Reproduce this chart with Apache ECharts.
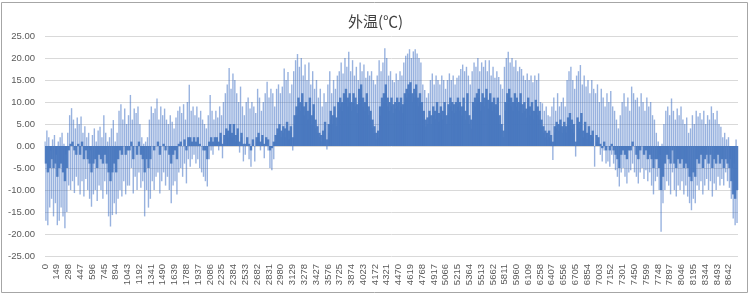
<!DOCTYPE html>
<html>
<head>
<meta charset="utf-8">
<script src="https://cdn.jsdelivr.net/npm/echarts@6/dist/echarts.min.js"></script>
<style>
  html, body { margin: 0; padding: 0; background: #fff; }
  #outTemp { width: 751px; height: 295px; }
</style>
</head>
<body>
<div id="outTemp"></div>
<script>
// outside temperature, one value per day, one line per month
// high / low = tips of the thin spikes, mean = top of the solid band most hours reach
const dailyHigh = [
  1, 3.5, 2, -1, 1.5, 2.5, -2, 1, 2, 3, 0.5, -2, 3, 7, 8.6, 6, 4, 6.5, 5, 6.7, 3, 4.5, 2, 3, -1, 2.5, 4, 1, 3.5, 4.4, 2,
  7, 3, 1, 2, 4, 5.9, 1, 3, 8, 9.5, 6, 8.5, 5, 7, 11.6, 6, 8.5, 7.5, 9, 5, 2, 0.5, 1, 2, 6, 9, 7.5, 8.5,
  10.8, 6, 9, 7, 8.5, 6, 5, 7, 5.5, 4, 6.5, 8, 9, 7.5, 9.5, 6, 10, 13.9, 8, 9, 7, 9, 6.5, 8, 6, 5, 4, 7, 11.6, 8, 6,
  8, 6.5, 9, 7, 10, 12, 14, 17.7, 13, 16.5, 15, 12, 10, 13.5, 9, 7, 10, 11, 8.5, 10, 9, 7.5, 13, 11, 8, 10, 12, 14.6, 11, 13,
  12, 9, 13, 14, 12, 13.5, 17.6, 15, 16.8, 12, 14, 17, 19.5, 20.9, 18, 20, 16, 18.5, 15, 19, 14, 17, 13, 15, 11, 13, 9, 12, 10, 14, 17,
  12, 15, 13, 16, 17, 19, 16.5, 20, 18, 21.4, 17, 19.5, 16, 18, 15, 19, 17, 18.5, 15.5, 17, 16, 17, 15, 14, 16, 19.5, 17, 19, 22.2, 20,
  16, 17, 15, 14.5, 16.5, 15, 17, 16, 19, 20.5, 21, 22, 20, 21.5, 22, 21, 20, 19, 14, 12.7, 11, 12, 15, 16.5, 14, 16, 15, 14, 16, 15, 13,
  15, 16.5, 15, 16, 14, 15.5, 16, 17.5, 18.5, 17, 18, 16, 14, 17, 19, 18, 20, 17, 19, 18, 19.5, 17, 19.5, 16, 18, 15.5, 17, 15.7, 14, 13, 18,
  20, 21.4, 19, 20, 18, 19.5, 17, 18, 17.5, 16, 15, 16.5, 15, 16, 14.5, 16, 15, 16.5, 10, 9.7, 8, 9, 7, 6.7, 9, 11, 8, 12, 9, 10,
  11, 9, 15, 17, 18, 15, 13, 16, 17, 18.4, 14, 16, 13.5, 15, 12, 15, 13, 12, 14, 10, 13, 11, 9, 12, 10, 12.5, 9, 8, 6, 4, 7,
  10, 12, 9, 11, 8, 13.5, 12, 10.5, 11, 9, 12, 10, 8, 11, 9, 10, 7, 6, 3, 1, -2, 0.5, 5, 8, 9, 7, 10.8, 8, 6, 8.5,
  7, 9, 6, 5, 6.5, 3, 4, 7, 5, 8, 6.7, 7.5, 6, 8, 5, 7, 6, 9, 7.5, 6, 8, 5, 4.4, 2, 3, 1.5, 2, -3, -5, -4, 1.5
];
const dailyLow = [
  -17, -18, -14, -12, -16, -13, -18, -17, -14, -16, -18.7, -15, -9, -10, -8, -10.7, -7, -9, -11, -8, -11.5, -7.5, -10, -12, -13.8, -11, -10, -12.5, -9, -10, -12,
  -8, -11, -16, -18.3, -15.7, -13, -15.5, -12, -10, -11.5, -8, -11, -9, -9, -5, -10.8, -7, -10, -6, -9.5, -8, -16, -10, -14, -12, -8, -10, -7,
  -6, -10.8, -8, -6, -9, -7, -10, -13, -9, -8, -11, -6, -5, -7, -4, -8.5, -3, -4.7, -3, -2, -4, -3, -5, -6, -7, -8, -9.2, -3, -1, -2, 0.5,
  1, -1, 2, -2.8, 1.5, 3, 2, 3.5, 2, 4, 1, 3, -1.5, 2, -3.5, -2, 1, -3, -4.7, 0.5, -3.5, 1, 2, -1, 1.5, -2.8, 1, -1, -5, -5.5,
  -3, 1, 3, 4, 2, 3, 2, 4, 1.5, 3, -1, 5, 7, 9, 8, 10.5, 7, 8, 6, 9, 5, 8, 4, 3, 2, 1, 2.5, 4, -0.8, 3, 6,
  5, 7, 4.5, 8, 9, 8, 10, 11, 9, 10, 8, 10, 9, 7.5, 11, 12, 9, 8, 10, 7, 6, 4, 3, 1.5, 2, 7, 9, 10, 12, 9,
  8, 9, 7.5, 8.5, 9, 8, 9, 7.5, 10, 11, 12, 12.7, 10, 11, 12, 9, 10, 8, 6, 4.4, 5, 6.5, 5, 7, 6, 8, 5.5, 7, 6, 8, 5,
  7.5, 9, 8, 7.5, 8, 9, 8, 7, 9, 6, 10, 5, 4, 8, 9, 10, 11, 8, 10, 9, 11, 8.5, 10, 8, 9, 7.5, 9, 5, 3.6, 2, 8,
  10, 11, 9, 8, 10, 9, 8, 10, 7.5, 8, 6.5, 9, 7, 8, 6, 8.5, 7, 6, 4.4, 3, 2, 1.4, 2, 1, -3.2, 3, 4, 3.5, 4.5, 3,
  4, 3, 5, 6, 4, 3, -2.4, 5, 4, 6, 2, 4, 1.5, 3, 1, 2, -4.7, 1, 0.5, -2, -3.5, -1, -4, -3.5, -4.7, -2, -4, -5.5, -7, -9.2, -6,
  -5, -7, -8.5, -6, -5.5, -4, -6, -7, -8.5, -6, -5, -7.5, -5.5, -8, -6, -9, -11, -8, -7, -10, -19.5, -13, -10, -8, -9, -11, -6, -10, -11.5, -9,
  -10, -8, -11, -9, -11.5, -13, -14.6, -12, -13, -9, -10, -8, -11, -9, -7.5, -10, -8, -11.5, -8.5, -10, -7, -9, -7.5, -9, -6, -8, -9.5, -12, -16.5, -18, -17.5
];
const dailyMean = [
  -4, -6, -5, -3, -5, -4, -7, -5, -4, -6, -8, -5, -1, 0.5, 1, -1, -2, 0.5, -2, 1, -3, -1, -3, -4, -6, -4, -3, -5, -2, -3, -4,
  -2, -4, -6, -8, -6, -4, -6, -3, -1, -2, 0, -2, -1, -1, 1, -3, 0, -2, 1, -2, -3, -6, -3, -5, -3, 0, -1, 0,
  1, -2, 0, 0.5, -1, 0, -2, -4, -2, -1, -3, 0.5, 1, 0, 1.5, -1, 2, 2, 1, 2, 1, 2, 0.5, 0, -1, -1, -3, 1, 2, 1, 2,
  2, 1, 3, 0.5, 2.5, 4, 3.5, 5, 3, 5, 2.5, 4, 1, 3, 0.5, 0.5, 2, 0.5, -1, 1.5, 0, 2, 3, 1, 2.5, 0.5, 2, 1.5, -1, -0.5,
  1, 2.5, 4, 5, 3.5, 4.5, 4, 5.5, 3.5, 4.5, 2, 7, 9, 11, 10, 12, 9, 10, 8, 11, 7, 9.5, 6, 4.5, 3, 2.5, 3.5, 5.5, 1.5, 5, 8,
  7, 9, 6.5, 10, 11, 10, 12, 13, 11, 12, 10, 12, 11, 9.5, 13, 14, 11, 10, 12, 9, 8, 6, 4.5, 3, 3.5, 9, 11, 12, 14, 11,
  10, 11, 9.5, 10, 11, 10, 11, 9.5, 12, 13, 14, 14.5, 12, 13, 14, 11, 12, 10, 8, 6, 6.5, 8, 7, 9, 8, 10, 7.5, 9, 8, 10, 7,
  9.5, 11, 10, 9.5, 10, 11, 10, 9, 11, 8, 12, 7, 6, 10, 11, 12, 13, 10, 12, 11, 13, 10.5, 12, 10, 11, 9.5, 11, 7, 5, 3.5, 10,
  12, 13, 11, 10, 12, 11, 10, 12, 9.5, 10, 8.5, 11, 9, 10, 8, 10.5, 9, 8, 6, 4.5, 3.5, 3, 3.5, 2.5, 1, 4.5, 5.5, 5, 6, 4.5,
  5.5, 4.5, 6.5, 7.5, 6, 5, 1, 6.5, 5.5, 7.5, 3.5, 5.5, 3, 4.5, 2.5, 3.5, 0, 2.5, 2, 0.5, -0.5, 1, -1, 0, -1, 0.5, -1, -2, -3, -5, -2,
  -1, -2, -3, -1, -1, 1, 0, -2, -3, -1, 0, -2, -1, -3, -2, -3, -5, -3, -3, -5, -10, -7, -4, -2, -3, -4, -1, -4, -5, -3,
  -4, -3, -5, -4, -5, -7, -8, -6, -7, -3, -4, -2, -5, -3, -2, -4, -2, -5, -3, -4, -2, -4, -3, -5, -3, -4, -5, -8, -11, -12, -10
];

// hour of the day each value is put at
const HIGH_HOUR = 6;
const MEAN_HOUR = 12;
const LOW_HOUR = 18;
const HOURS = 8760;
const LABEL_STEP = 149;

const grey = '#595959';

var spikes = [];
dailyHigh.forEach(function (v, d) { spikes.push([d * 24 + HIGH_HOUR, v]); });
dailyLow.forEach(function (v, d) { spikes.push([d * 24 + LOW_HOUR, v]); });
var band = dailyMean.map(function (v, d) { return [d * 24 + MEAN_HOUR, v]; });

const chart = echarts.init(document.getElementById('outTemp'), null, { renderer: 'canvas' });

chart.setOption({
    animation: false,
    title: {
        text: '外温(℃)',
        left: 'center',
        top: 9,
        textStyle: {
            fontFamily: 'Noto Sans CJK SC',
            fontSize: 15,
            fontWeight: 'normal',
            color: '#404040'
        }
    },
    grid: {
        left: 45,
        right: 13,
        top: 36,
        bottom: 39
    },
    xAxis: {
        type: 'value',
        min: 0,
        max: HOURS,
        interval: LABEL_STEP,
        splitLine: { show: false },
        axisLine: { show: false },
        axisTick: { show: false },
        axisLabel: {
            rotate: 90,
            margin: 8,
            fontSize: 9.5,
            fontFamily: 'Liberation Sans',
            color: grey,
            showMaxLabel: false,
            formatter: function (v) { return String(v); }
        }
    },
    yAxis: {
        type: 'value',
        min: -25,
        max: 25,
        interval: 5,
        axisLine: { show: false },
        axisTick: { show: false },
        splitLine: { lineStyle: { color: '#d9d9d9', width: 1 } },
        axisLabel: {
            margin: 10,
            fontSize: 9.5,
            fontFamily: 'Liberation Sans',
            color: grey,
            formatter: function (v) { return v.toFixed(2); }
        }
    },
    series: [
        {
            name: '外温',
            type: 'bar',
            barWidth: 1.4,
            barGap: '-100%',
            data: spikes,
            itemStyle: { color: 'rgba(68,114,196,0.55)' }
        },
        {
            name: '外温',
            type: 'bar',
            barWidth: 2.4,
            barGap: '-100%',
            data: band,
            itemStyle: { color: 'rgba(70,118,190,0.92)' }
        }
    ],
    graphic: [{
        type: 'rect',
        shape: { x: 1.5, y: 2.5, width: 746, height: 290 },
        style: { fill: 'none', stroke: '#a6a6a6', lineWidth: 1 },
        silent: true
    }]
});
</script>
</body>
</html>
